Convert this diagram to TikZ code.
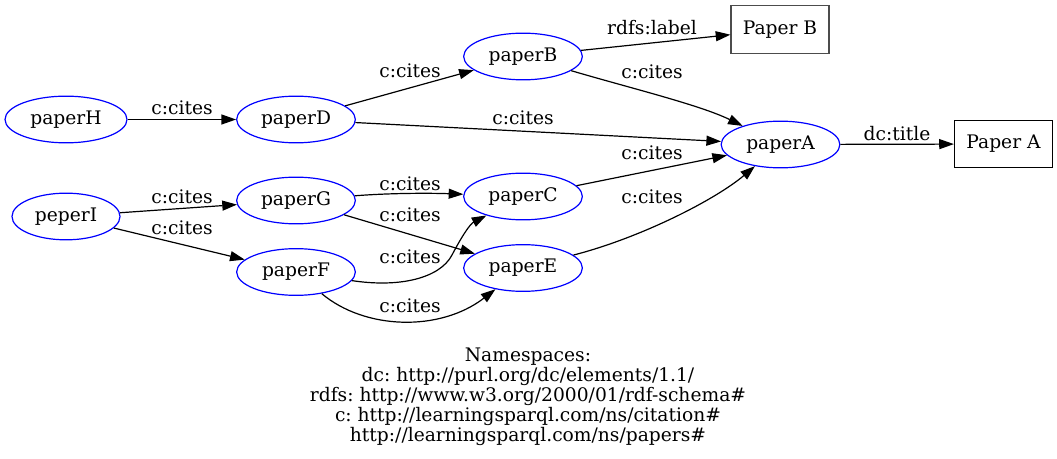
\documentclass[tikz,border=0pt]{standalone}
\usepackage{fontspec}
\setmainfont{DejaVu Serif}
\usetikzlibrary{arrows.meta,shapes.geometric}
\frenchspacing
\begin{document}
\begin{tikzpicture}[x=0.75pt, y=-0.75pt, font=\fontsize{14}{15}\selectfont, line width=0.9pt,
		>={Triangle[length=11pt,width=7.5pt]},
		res/.style={draw=blue, ellipse, inner sep=0pt, minimum width=89pt, minimum height=35pt},
		lit/.style={draw, rectangle, inner sep=0pt, minimum width=73.5pt, minimum height=35.5pt}]
	\useasboundingbox (0,0) rectangle (1057,459);
	% resources
	\node[res, minimum width=91.5pt] (paperH) at (66,119.5) {paperH};
	\node[res] (paperD) at (296,119.5) {paperD};
	\node[res] (paperB) at (523,56.5) {paperB};
	\node[res] (paperA) at (780.5,144.5) {paperA};
	\node[res, minimum width=81pt] (peperI) at (66,216.5) {peperI};
	\node[res] (paperG) at (296,200.5) {paperG};
	\node[res] (paperF) at (296,272) {paperF};
	\node[res] (paperC) at (523,196.5) {paperC};
	\node[res] (paperE) at (523,268) {paperE};
	% literals
	\node[lit, draw=black!70] (litB) at (780,29.5) {Paper B};
	\node[lit] (litA) at (1003.5,144) {Paper A};
	% edges
	\draw[->] (paperH) -- (paperD);
	\draw[->] (paperD) -- (paperB);
	\draw[->] (paperD) -- (paperA);
	\draw[->] (paperB) -- (litB);
	\draw[->] (paperB) .. controls (630,88) and (700,105) .. (paperA);
	\draw[->] (paperC) -- (paperA);
	\draw[->] (paperE) .. controls (640,238) and (715,200) .. (paperA);
	\draw[->] (paperA) -- (litA);
	\draw[->] (peperI) -- (paperG);
	\draw[->] (peperI) -- (paperF);
	\draw[->] (paperG) .. controls (390,193) and (430,193) .. (paperC);
	\draw[->] (paperG) -- (paperE);
	\draw[->] (paperF) .. controls (400,288) and (440,278) .. (452,255)
		.. controls (462,236) and (470,224) .. (paperC);
	\draw[->] (paperF) .. controls (365,330) and (440,332) .. (paperE);
	% edge labels
	\node (lHD) at (182,108) {c:cites};
	\node (lDB) at (410,71) {c:cites};
	\node (lDA) at (523,118) {c:cites};
	\node (lBL) at (652,28) {rdfs:label};
	\node (lBA) at (652,72) {c:cites};
	\node (lCA) at (652,153) {c:cites};
	\node (lEA) at (652,197) {c:cites};
	\node (lAL) at (897,134) {dc:title};
	\node (lIG) at (182,197) {c:cites};
	\node (lIF) at (182,228) {c:cites};
	\node (lGC) at (410,184) {c:cites};
	\node (lGE) at (410,215) {c:cites};
	\node (lFC) at (410,257) {c:cites};
	\node (lFE) at (410,306) {c:cites};
	% namespaces
	\node[align=center] (ns) at (528,397) {Namespaces:\\dc: http://purl.org/dc/elements/1.1/\\rdfs: http://www.w3.org/2000/01/rdf-schema\#\\c: http://learningsparql.com/ns/citation\#\\http://learningsparql.com/ns/papers\#};
\end{tikzpicture}
\end{document}
